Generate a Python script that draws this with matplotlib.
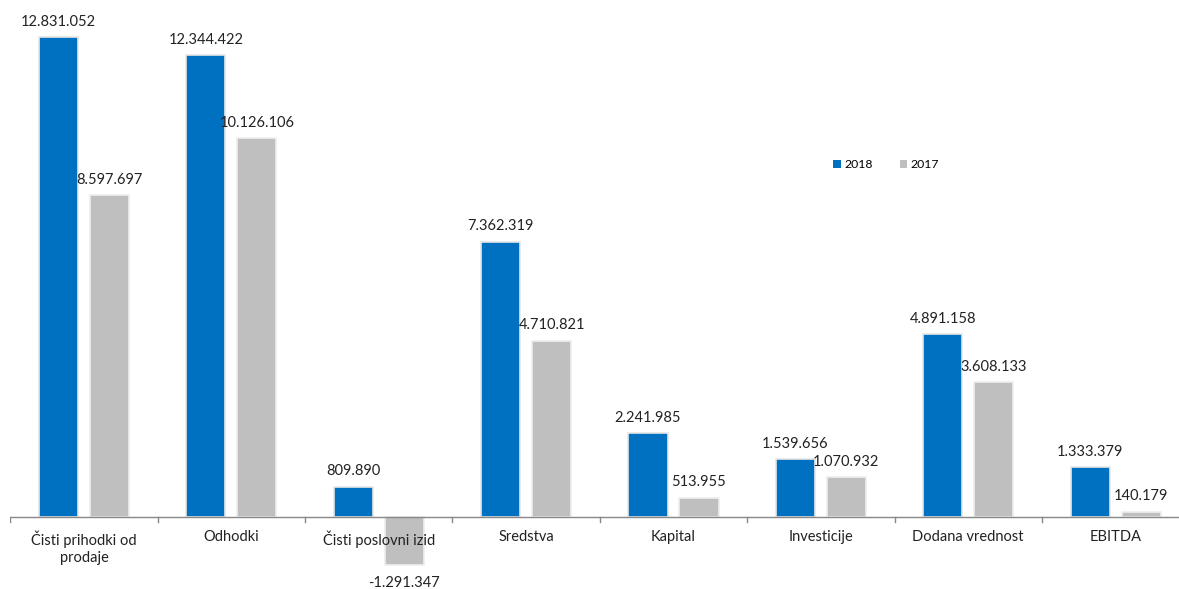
import matplotlib
matplotlib.use("Agg")
import matplotlib.pyplot as plt
import numpy as np

categories = ["Čisti prihodki od\nprodaje", "Odhodki", "Čisti poslovni izid", "Sredstva",
              "Kapital", "Investicije", "Dodana vrednost", "EBITDA"]
values_2018 = [12831052, 12344422, 809890, 7362319, 2241985, 1539656, 4891158, 1333379]
values_2017 = [8597697, 10126106, -1291347, 4710821, 513955, 1070932, 3608133, 140179]
series_names = ["2018", "2017"]

blue = "#0070C0"
gray = "#BFBFBF"

def fmt(v):
    s = f"{abs(v):,}".replace(",", ".")
    return ("-" if v < 0 else "") + s

plt.rcParams['font.family'] = ['Lato', 'DejaVu Sans']

fig = plt.figure(figsize=(11.79, 5.89), dpi=100)
ax = fig.add_axes([10.3/1179, 0, 1179/1179, 1])
x = np.arange(len(categories))
w = 0.265
off = 0.173
b1 = ax.bar(x - off, values_2018, w, color=blue, edgecolor="#e6e6e6", linewidth=1.2, label=series_names[0], zorder=2)
b2 = ax.bar(x + off, values_2017, w, color=gray, edgecolor="#eeeeee", linewidth=1.2, label=series_names[1], zorder=2)

for bars, vals in ((b1, values_2018), (b2, values_2017)):
    for rect, v in zip(bars, vals):
        cx = rect.get_x() + rect.get_width() / 2
        if v >= 0:
            ax.annotate(fmt(v), (cx, v), xytext=(0, 6), textcoords="offset points",
                        ha="center", va="bottom", fontsize=10.5, color="#222222")
        else:
            ax.annotate(fmt(v), (cx, v), xytext=(0, -8), textcoords="offset points",
                        ha="center", va="top", fontsize=10.5, color="#222222")

ax.set_xlim(-0.5, len(categories) - 0.5)
ax.set_ylim(-1.925e6, 13.82e6)
for s in ("top", "right", "left", "bottom"):
    ax.spines[s].set_visible(False)
ax.axhline(0, color="#888888", linewidth=1, zorder=3)
ax.set_yticks([])
ax.set_xticks([])
for b in np.arange(-0.5, len(categories), 1.0):
    ax.plot([b, b], [0, -0.13e6], color="#888888", linewidth=1, zorder=3)
for xi, c in zip(x, categories):
    ax.text(xi, -0.36e6, c, ha="center", va="top", fontsize=10.5, color="#222222",
            linespacing=1.3)

leg = ax.legend(loc="upper left", bbox_to_anchor=(812/1179, 1 - 148/589), ncol=2, frameon=False,
                fontsize=8.8, handlelength=0.6, handleheight=0.6, columnspacing=2.2, handletextpad=0.3)
for h in leg.legend_handles:
    h.set_edgecolor("none")

fig.savefig("out.png", dpi=100)
